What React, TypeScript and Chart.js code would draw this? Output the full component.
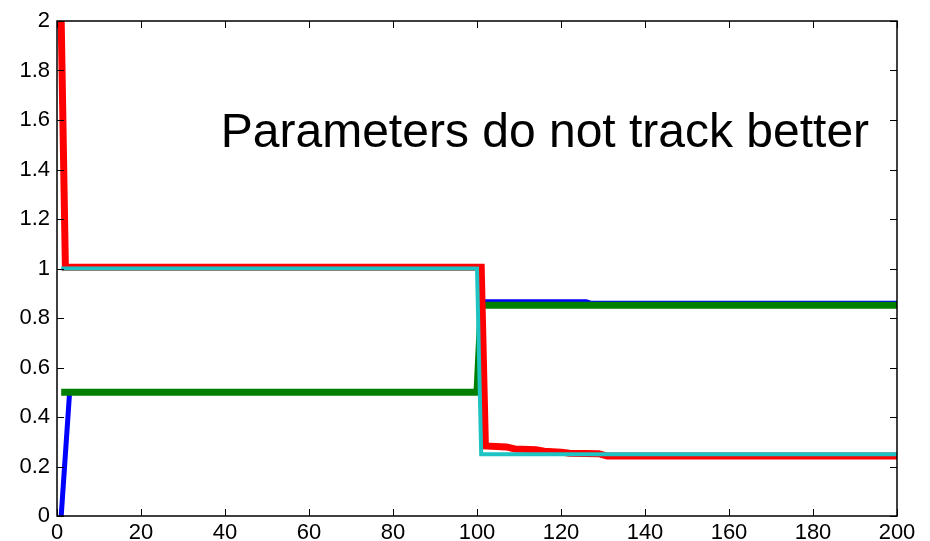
import React, { useEffect, useRef } from "react";
import { Chart, registerables } from "chart.js";

Chart.register(...registerables);

// ---- data ----
const xTicks = [0, 20, 40, 60, 80, 100, 120, 140, 160, 180, 200];
const yTicks = [0, 0.2, 0.4, 0.6, 0.8, 1, 1.2, 1.4, 1.6, 1.8, 2];

const blueX = [1, 3, 100, 101, 126, 127, 200];
const blueY = [0, 0.5, 0.5, 0.866, 0.866, 0.86, 0.86];

const greenX = [1, 100, 101, 200];
const greenY = [0.5, 0.5, 0.852, 0.852];

const redX = [1, 2, 101, 102, 107, 109, 114, 116, 120, 122, 129, 131, 200];
const redY = [2, 1.005, 1.005, 0.283, 0.279, 0.271, 0.268, 0.262, 0.258, 0.254, 0.252, 0.242, 0.242];

const cyanX = [1, 100, 101, 200];
const cyanY = [1, 1, 0.25, 0.25];

const annotationText = "Parameters do not track better";
const annotationX = 39;
const annotationY = 1.49;

const FONT = "'Liberation Sans', Arial, Helvetica, sans-serif";

const pts = (xs: number[], ys: number[]) => xs.map((x, i) => ({ x, y: ys[i] }));

const boxPlugin = {
  id: "matlabBox",
  afterDraw(chart: any) {
    const { ctx, chartArea, scales } = chart;
    const { left, right, top, bottom } = chartArea;
    const tl = 7;
    ctx.save();
    ctx.strokeStyle = "#000";
    ctx.lineWidth = 1;
    ctx.beginPath();
    for (const v of xTicks) {
      const px = Math.round(scales.x.getPixelForValue(v)) + 0.5;
      ctx.moveTo(px, bottom);
      ctx.lineTo(px, bottom - tl);
      ctx.moveTo(px, top);
      ctx.lineTo(px, top + tl);
    }
    for (const v of yTicks) {
      const py = Math.round(scales.y.getPixelForValue(v)) + 0.5;
      ctx.moveTo(left, py);
      ctx.lineTo(left + tl, py);
      ctx.moveTo(right, py);
      ctx.lineTo(right - tl, py);
    }
    ctx.stroke();
    ctx.lineWidth = 1.5;
    ctx.strokeRect(left, top, right - left, bottom - top);
    // annotation
    ctx.fillStyle = "#000";
    ctx.font = `48px ${FONT}`;
    ctx.textAlign = "left";
    ctx.textBaseline = "alphabetic";
    ctx.fillText(
      annotationText,
      scales.x.getPixelForValue(annotationX),
      scales.y.getPixelForValue(annotationY)
    );
    ctx.restore();
  },
};

export default function App() {
  const ref = useRef<HTMLCanvasElement | null>(null);
  useEffect(() => {
    if (!ref.current) return;
    const common = { fill: false, pointRadius: 0, tension: 0, borderCapStyle: "butt" as const, borderJoinStyle: "miter" as const };
    const chart = new Chart(ref.current, {
      type: "line",
      data: {
        datasets: [
          { ...common, label: "cyan", data: pts(cyanX, cyanY), borderColor: "#1ec3c3", borderWidth: 4, order: 0 },
          { ...common, label: "red", data: pts(redX, redY), borderColor: "#ff0000", borderWidth: 7, order: 1 },
          { ...common, label: "green", data: pts(greenX, greenY), borderColor: "#007f00", borderWidth: 7, order: 2 },
          { ...common, label: "blue", data: pts(blueX, blueY), borderColor: "#0000ff", borderWidth: 5, order: 3 },
        ],
      },
      options: {
        animation: false,
        responsive: false,
        maintainAspectRatio: false,
        layout: { padding: { left: 0, right: 33, top: 21, bottom: 0 } },
        plugins: { legend: { display: false }, tooltip: { enabled: false } },
        scales: {
          x: {
            type: "linear",
            min: 0,
            max: 200,
            afterBuildTicks: (s: any) => { s.ticks = xTicks.map((v) => ({ value: v })); },
            afterFit: (s: any) => { s.height = 25; },
            grid: { display: false, drawTicks: false },
            border: { display: false },
            ticks: { color: "#000", font: { family: FONT, size: 22 }, padding: 4, maxRotation: 0, autoSkip: false },
          },
          y: {
            type: "linear",
            min: 0,
            max: 2,
            afterBuildTicks: (s: any) => { s.ticks = yTicks.map((v) => ({ value: v })); },
            afterFit: (s: any) => { s.width = 57; },
            grid: { display: false, drawTicks: false },
            border: { display: false },
            ticks: { color: "#000", font: { family: FONT, size: 22 }, padding: 7, autoSkip: false,
              callback: (v: any) => String(Math.round(Number(v) * 10) / 10) },
          },
        },
      },
      plugins: [boxPlugin],
    });
    return () => chart.destroy();
  }, []);
  return (
    <div style={{ position: "fixed", left: 0, top: 0, width: 930, height: 541, background: "#fff" }}>
      <canvas ref={ref} width={930} height={541} style={{ width: 930, height: 541 }} />
    </div>
  );
}
